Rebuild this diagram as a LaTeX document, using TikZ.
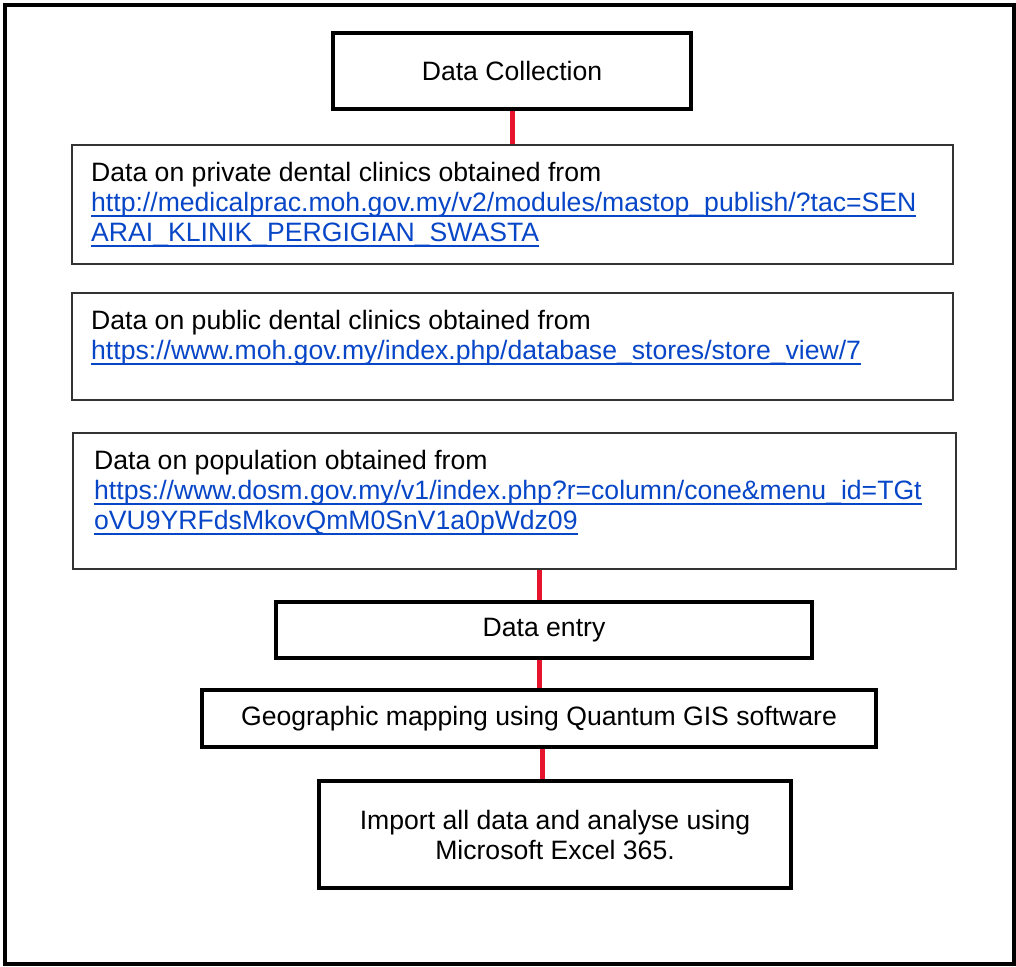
\documentclass[tikz,border=0pt]{standalone}
\usepackage{fontspec}
\setmainfont{Liberation Sans}
\usepackage{xcolor}
\usepackage{tikz}
\usetikzlibrary{positioning, calc}
\definecolor{linkblue}{RGB}{8,70,200}
\definecolor{linkred}{RGB}{230,20,45}
\newcommand{\boxfont}{\fontsize{26.6pt}{30pt}\selectfont}
\newsavebox{\linkbox}
\newcommand{\weblink}[1]{\textcolor{linkblue}{\sbox{\linkbox}{#1}\rlap{\rule[-5.5pt]{\wd\linkbox}{1.5pt}}\usebox{\linkbox}}}
\tikzstyle{stepbox} = [rectangle, draw=black, line width=4pt, inner sep=0pt, align=center]
\tikzstyle{sourcebox} = [rectangle, draw=black!80, line width=2pt, inner sep=0pt]
\tikzstyle{sourcetext} = [anchor=north west, inner sep=0pt, align=left]
\tikzstyle{redlink} = [draw=linkred, line width=5pt]

\begin{document}
\begin{tikzpicture}[x=1pt, y=-1pt, font=\boxfont]
			\useasboundingbox (0,0) rectangle (1016,966);
			\draw [line width=4pt] (5.3,5.3) rectangle (1014,964);
			
			% Nodes
			\node (collection) [stepbox, minimum width=358pt, minimum height=76pt] at (512,71) {Data Collection};
			
			\node (private) [sourcebox, minimum width=881pt, minimum height=119pt] at (512.5,204.5) {};
			\node (private_text) [sourcetext] at ([xshift=20pt, yshift=-18pt]private.north west) {Data on private dental clinics obtained from\\
				\weblink{http://medicalprac.moh.gov.my/v2/modules/mastop\_publish/?tac=SEN}\\
				\weblink{ARAI\_KLINIK\_PERGIGIAN\_SWASTA}};
			
			\node (public) [sourcebox, minimum width=881pt, minimum height=107pt] at (512.5,346.5) {};
			\node (public_text) [sourcetext] at ([xshift=20pt, yshift=-18pt]public.north west) {Data on public dental clinics obtained from\\
				\weblink{https://www.moh.gov.my/index.php/database\_stores/store\_view/7}};
			
			\node (population) [sourcebox, minimum width=883pt, minimum height=136pt] at (514.5,501) {};
			\node (population_text) [sourcetext] at ([xshift=22pt, yshift=-18pt]population.north west) {Data on population obtained from\\
				\weblink{https://www.dosm.gov.my/v1/index.php?r=column/cone\&menu\_id=TGt}\\
				\weblink{oVU9YRFdsMkovQmM0SnV1a0pWdz09}};
			
			\node (entry) [stepbox, minimum width=536pt, minimum height=56pt] at (544,630) {Data entry};
			\node (geo) [stepbox, minimum width=674pt, minimum height=57pt] at (539,718.5) {Geographic mapping using Quantum GIS software};
			\node (import) [stepbox, minimum width=472pt, minimum height=107pt] at (555,834.5) {Import all data and analyse using\\ Microsoft Excel 365.};
			
			% Lines
			\draw [redlink] (collection.south) -- (collection.south |- private.north);
			\draw [redlink] (geo.north |- population.south) -- (geo.north |- entry.north);
			\draw [redlink] (geo.north |- entry.south) -- (geo.north);
			\draw [redlink] ([xshift=3pt]geo.south) -- ([xshift=3pt]geo.south |- import.north);
		\end{tikzpicture}
\end{document}
